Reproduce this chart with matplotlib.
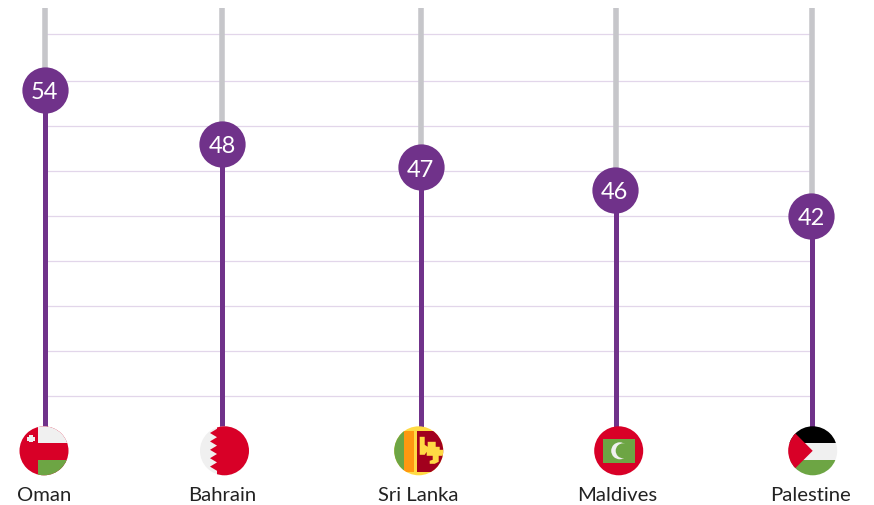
import matplotlib
matplotlib.use("Agg")
import matplotlib.pyplot as plt
from matplotlib.patches import Circle, Polygon, Rectangle

plt.rcParams['font.family'] = ['Lato', 'DejaVu Sans']

# values as drawn (the stems do not sit at their printed labels in the original)
countries = ['Oman', 'Bahrain', 'Sri Lanka', 'Maldives', 'Palestine']
value_labels = ['54', '48', '47', '46', '42']
stem_heights = [54, 48, 45.4, 42.9, 40]
grid_levels = [20, 25, 30, 35, 40, 45, 50, 55, 60.2]

W, H = 874, 506
PX_PER_UNIT = 9.0
Y_TOP = 64.1
STEM_TOP = 63.1
STEM_BOTTOM = 16.6
stem_x = [45, 222, 421, 616, 811.5]
bubble_x = [44.8, 222.3, 420.8, 614.8, 811]
flag_x = [44, 224.5, 418.7, 618.7, 812.7]
label_x = [44, 222, 418, 617, 811]
FLAG_Y = 451.8
FLAG_R = 24.5

RED = '#d80027'
WHITE = '#f0f0f0'
GREEN = '#6da544'
YELLOW = '#ffda44'
ORANGE = '#ff9811'
MAROON = '#a2001d'
PURPLE = '#70328a'
GREY = '#c6c6ca'
GRID = '#e2d6ea'


def rect(ax, clip, x0, y0, x1, y1, color):
    p = Rectangle((x0, y0), x1 - x0, y1 - y0, fc=color, ec='none')
    ax.add_patch(p)
    p.set_clip_path(clip)


def poly(ax, clip, pts, color):
    p = Polygon(pts, closed=True, fc=color, ec='none')
    ax.add_patch(p)
    p.set_clip_path(clip)


def draw_oman(ax, clip, cx, cy):
    rect(ax, clip, cx - 30, cy - 30, cx + 30, cy + 30, RED)
    rect(ax, clip, cx - 6, cy - 30, cx + 30, cy - 8, WHITE)
    rect(ax, clip, cx - 6, cy + 9, cx + 30, cy + 30, GREEN)
    # little emblem, a blocky cross
    ex, ey = cx - 13, cy - 12
    rect(ax, clip, ex - 3.6, ey - 2, ex + 3.6, ey + 2, WHITE)
    rect(ax, clip, ex - 2, ey - 3.6, ex + 2, ey + 3.6, WHITE)


def draw_bahrain(ax, clip, cx, cy):
    rect(ax, clip, cx - 30, cy - 30, cx + 30, cy + 30, WHITE)
    pts = [(cx - 7.5, cy - 30), (cx - 7.5, cy - 22)]
    for i in range(5):
        top = cy - 22 + i * 8.4
        pts += [(cx - 14.5, top + 4.2), (cx - 7.5, top + 8.4)]
    pts += [(cx - 7.5, cy + 30), (cx + 30, cy + 30), (cx + 30, cy - 30)]
    poly(ax, clip, pts, RED)


def draw_srilanka(ax, clip, cx, cy):
    rect(ax, clip, cx - 30, cy - 30, cx + 30, cy + 30, YELLOW)
    rect(ax, clip, cx - 25, cy - 20, cx - 15, cy + 21, GREEN)
    rect(ax, clip, cx - 14.5, cy - 20, cx - 4.7, cy + 21, ORANGE)
    rect(ax, clip, cx - 2, cy - 20, cx + 30, cy + 21, MAROON)
    lion = [(cx + 1, cy - 14), (cx + 6, cy - 14), (cx + 6, cy - 6), (cx + 9, cy - 4),
            (cx + 9, cy - 9), (cx + 17, cy - 9), (cx + 17, cy - 4), (cx + 21, cy - 4),
            (cx + 21, cy - 1), (cx + 25, cy - 1), (cx + 25, cy + 5), (cx + 20, cy + 5),
            (cx + 20, cy + 11), (cx + 16, cy + 13), (cx + 11, cy + 13), (cx + 11, cy + 10),
            (cx + 14, cy + 9), (cx + 14, cy + 5), (cx + 8, cy + 5), (cx + 8, cy + 1),
            (cx + 6, cy + 4), (cx + 1, cy + 4)]
    poly(ax, clip, lion, YELLOW)


def draw_maldives(ax, clip, cx, cy):
    rect(ax, clip, cx - 30, cy - 30, cx + 30, cy + 30, RED)
    rect(ax, clip, cx - 16, cy - 12, cx + 16, cy + 12, GREEN)
    ax.add_patch(Circle((cx + 1, cy), 8.5, fc=WHITE, ec='none'))
    ax.add_patch(Circle((cx + 4.5, cy), 7.5, fc=GREEN, ec='none'))


def draw_palestine(ax, clip, cx, cy):
    rect(ax, clip, cx - 30, cy - 30, cx + 30, cy - 8, '#000000')
    rect(ax, clip, cx - 30, cy - 8, cx + 30, cy + 9, WHITE)
    rect(ax, clip, cx - 30, cy + 9, cx + 30, cy + 30, GREEN)
    poly(ax, clip, [(cx - 30, cy - 30), (cx, cy), (cx - 30, cy + 30)], RED)


flag_funcs = [draw_oman, draw_bahrain, draw_srilanka, draw_maldives, draw_palestine]

fig = plt.figure(figsize=(W / 100, H / 100), dpi=100)
ax = fig.add_axes([0, 0, 1, 1])
ax.set_xlim(0, W)
ax.set_ylim(Y_TOP - H / PX_PER_UNIT, Y_TOP)
ax.axis('off')

ax.hlines(grid_levels, stem_x[0], stem_x[-1], color=GRID, lw=0.9, zorder=1)

for x, bx, h, lab in zip(stem_x, bubble_x, stem_heights, value_labels):
    ax.plot([x, x], [h, STEM_TOP], color=GREY, lw=4.0, solid_capstyle='butt', zorder=2)
    ax.plot([x, x], [STEM_BOTTOM, h], color=PURPLE, lw=3.6, solid_capstyle='butt', zorder=3)
    ax.plot([bx], [h], 'o', ms=33.3, color=PURPLE, mec='none', zorder=4)
    ax.text(bx, h, lab, color='white', fontsize=17,
            ha='center', va='center_baseline', zorder=5)

# flags are drawn in pixel coordinates on an overlay
fx = fig.add_axes([0, 0, 1, 1])
fx.set_xlim(0, W)
fx.set_ylim(H, 0)
fx.axis('off')
fx.patch.set_alpha(0)

for x, draw in zip(flag_x, flag_funcs):
    clip = Circle((x, FLAG_Y), FLAG_R, transform=fx.transData)
    draw(fx, clip, x, FLAG_Y)

for x, name in zip(label_x, countries):
    fx.text(x, 496, name, color='#222222', fontsize=14.6, ha='center', va='center')

fig.savefig('out.png', dpi=100)
